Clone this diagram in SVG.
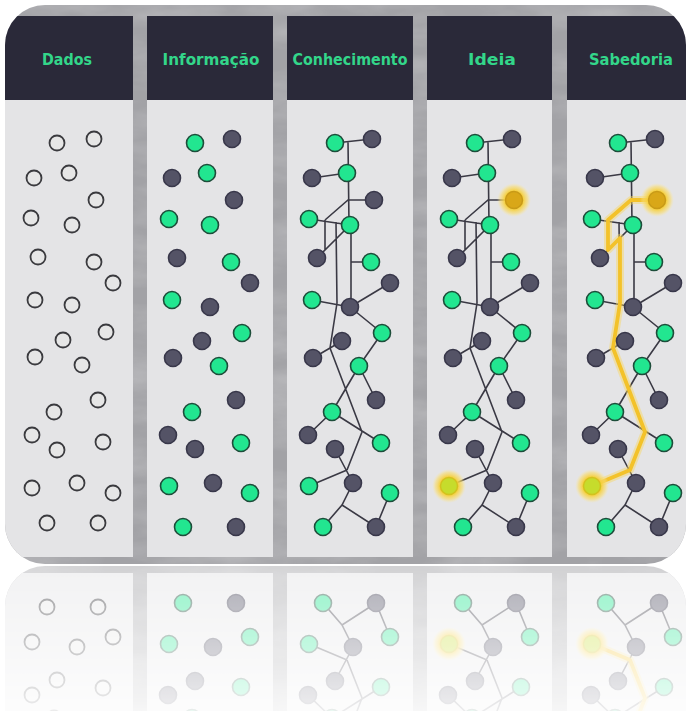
<svg xmlns="http://www.w3.org/2000/svg" xmlns:xlink="http://www.w3.org/1999/xlink" width="687" height="711" viewBox="0 0 687 711">
<style>
.hdr{fill:#2a2939}
.body{fill:#e4e4e6}
.ttl{font-family:"DejaVu Sans","Liberation Sans",sans-serif;font-weight:bold;font-size:15px;fill:#33d68a;text-anchor:middle}
.h{fill:#e6e6e6;stroke:#3a3a3e;stroke-width:1.8}
.g{fill:#22e690;stroke:#1d4d3a;stroke-width:1.6}
.d{fill:#545366;stroke:#38374a;stroke-width:1.6}
.e{fill:none;stroke:#3a3944;stroke-width:1.6}
.yl{fill:none;stroke:#f3c22a;stroke-width:3.8;stroke-linejoin:round;stroke-linecap:round}
.ylg{fill:none;stroke:#f8d860;stroke-width:8;stroke-opacity:0.45;stroke-linejoin:round;stroke-linecap:round}
.glow{fill:url(#glowGrad)}
.gold{fill:#d9a718;stroke:#c89a18;stroke-width:1.5}
.lime{fill:#c6dc2c;stroke:#d2c21e;stroke-width:1.5}
</style>
<defs>
<clipPath id="frameClip"><rect x="5" y="5" width="681" height="559" rx="40" ry="40"/></clipPath>
<filter id="marble" x="0" y="0" width="100%" height="100%">
<feTurbulence type="fractalNoise" baseFrequency="0.012 0.035" numOctaves="4" seed="7" result="n"/>
<feColorMatrix in="n" type="matrix" values="0 0 0 0 1  0 0 0 0 1  0 0 0 0 1  0.9 0 0 0 -0.3"/>
</filter>
<radialGradient id="glowGrad">
<stop offset="0" stop-color="#f2c21e" stop-opacity="1"/>
<stop offset="0.55" stop-color="#f6cf3a" stop-opacity="0.95"/>
<stop offset="0.8" stop-color="#f8dc70" stop-opacity="0.6"/>
<stop offset="1" stop-color="#fbe9a0" stop-opacity="0"/>
</radialGradient>
<linearGradient id="fadeGrad" gradientUnits="userSpaceOnUse" x1="0" y1="564" x2="0" y2="711">
<stop offset="0" stop-color="#fff" stop-opacity="0.5"/>
<stop offset="1" stop-color="#fff" stop-opacity="0.1"/>
</linearGradient>
<mask id="fade" maskUnits="userSpaceOnUse" x="0" y="560" width="687" height="151">
<rect x="0" y="560" width="687" height="151" fill="url(#fadeGrad)"/>
</mask>
</defs>
<rect x="0" y="0" width="687" height="711" fill="#ffffff"/>

<g id="pic">
<g clip-path="url(#frameClip)">
<rect x="5" y="5" width="681" height="559" fill="#a2a2a6"/>
<rect x="5" y="5" width="681" height="559" filter="url(#marble)" opacity="0.45"/>

<g id="col-dados">
<rect class="hdr" x="5" y="16" width="128" height="84"/>
<rect class="body" x="5" y="100" width="128" height="457"/>
<text class="ttl" x="67" y="65" textLength="50" lengthAdjust="spacingAndGlyphs">Dados</text>
</g>
<g id="col-informacao">
<rect class="hdr" x="147" y="16" width="126" height="84"/>
<rect class="body" x="147" y="100" width="126" height="457"/>
<text class="ttl" x="211" y="65" textLength="97" lengthAdjust="spacingAndGlyphs">Informação</text>
</g>
<g id="col-conhecimento">
<rect class="hdr" x="287" y="16" width="126" height="84"/>
<rect class="body" x="287" y="100" width="126" height="457"/>
<text class="ttl" x="350" y="65" textLength="115" lengthAdjust="spacingAndGlyphs">Conhecimento</text>
</g>
<g id="col-ideia">
<rect class="hdr" x="427" y="16" width="125" height="84"/>
<rect class="body" x="427" y="100" width="125" height="457"/>
<text class="ttl" x="492" y="65" textLength="48" lengthAdjust="spacingAndGlyphs">Ideia</text>
</g>
<g id="col-sabedoria">
<rect class="hdr" x="567" y="16" width="125" height="84"/>
<rect class="body" x="567" y="100" width="125" height="457"/>
<text class="ttl" x="631" y="65" textLength="84" lengthAdjust="spacingAndGlyphs">Sabedoria</text>
</g>
</g>

<g id="connectors">
<g id="edges-conhecimento">
<path class="e" d="M335,143 L372,139 M348,141 L349,225 M312,178 L347,173 M374,200 L348,200 L325,220 M309,219 L350,225 M325,220 L325,250 M350,225 L317,258 M336,222 L337,303 L330,348 M351,225 L351,307 M371,262 L351,262 M312,300 L350,307 M350,307 L390,283 M350,307 L382,333 M313,358 L342,341 M330,348 L362,432 M382,333 L359,366 M359,366 L376,400 M359,366 L332,412 M332,412 L308,435 M332,412 L381,443 M362,432 L347,470 M309,486 L347,470 M335,449 L353,483 M353,483 L342,505 L323,527 M342,505 L376,527 M390,493 L376,527"/>
</g>
<g id="edges-ideia" transform="translate(140,0)">
<path class="e" d="M335,143 L372,139 M348,141 L349,225 M312,178 L347,173 M374,200 L348,200 L325,220 M309,219 L350,225 M325,220 L325,250 M350,225 L317,258 M336,222 L337,303 L330,348 M351,225 L351,307 M371,262 L351,262 M312,300 L350,307 M350,307 L390,283 M350,307 L382,333 M313,358 L342,341 M330,348 L362,432 M382,333 L359,366 M359,366 L376,400 M359,366 L332,412 M332,412 L308,435 M332,412 L381,443 M362,432 L347,470 M309,486 L347,470 M335,449 L353,483 M353,483 L342,505 L323,527 M342,505 L376,527 M390,493 L376,527"/>
</g>
<g id="edges-sabedoria" transform="translate(283,0)">
<path class="e" d="M335,143 L372,139 M348,141 L349,225 M312,178 L347,173 M374,200 L348,200 L325,220 M309,219 L350,225 M325,220 L325,250 M350,225 L317,258 M336,222 L337,303 L330,348 M351,225 L351,307 M371,262 L351,262 M312,300 L350,307 M350,307 L390,283 M350,307 L382,333 M313,358 L342,341 M330,348 L362,432 M382,333 L359,366 M359,366 L376,400 M359,366 L332,412 M332,412 L308,435 M332,412 L381,443 M362,432 L347,470 M309,486 L347,470 M335,449 L353,483 M353,483 L342,505 L323,527 M342,505 L376,527 M390,493 L376,527"/>
<path class="ylg" d="M374,200 L348,200 L325,220 L325,250 L337,238 L337,303 L330,348 L362,432 L347,470 L309,486"/>
<path class="yl" d="M374,200 L348,200 L325,220 L325,250 L337,238 L337,303 L330,348 L362,432 L347,470 L309,486"/>
</g>
</g>

<g id="nodes-dados" transform="translate(-278,0)">
<g id="n1A"><circle class="h" cx="335" cy="143" r="7.5"/></g>
<g id="n1B"><circle class="h" cx="372" cy="139" r="7.5"/></g>
<g id="n1C"><circle class="h" cx="312" cy="178" r="7.5"/></g>
<g id="n1D"><circle class="h" cx="347" cy="173" r="7.5"/></g>
<g id="n1E"><circle class="h" cx="374" cy="200" r="7.5"/></g>
<g id="n1F"><circle class="h" cx="309" cy="218" r="7.5"/></g>
<g id="n1G"><circle class="h" cx="350" cy="225" r="7.5"/></g>
<g id="n1H"><circle class="h" cx="316" cy="257" r="7.5"/></g>
<g id="n1I"><circle class="h" cx="372" cy="262" r="7.5"/></g>
<g id="n1J"><circle class="h" cx="391" cy="283" r="7.5"/></g>
<g id="n1K"><circle class="h" cx="313" cy="300" r="7.5"/></g>
<g id="n1L"><circle class="h" cx="350" cy="305" r="7.5"/></g>
<g id="n1M"><circle class="h" cx="384" cy="332" r="7.5"/></g>
<g id="n1N"><circle class="h" cx="341" cy="340" r="7.5"/></g>
<g id="n1O"><circle class="h" cx="313" cy="357" r="7.5"/></g>
<g id="n1P"><circle class="h" cx="360" cy="365" r="7.5"/></g>
<g id="n1Q"><circle class="h" cx="376" cy="400" r="7.5"/></g>
<g id="n1R"><circle class="h" cx="332" cy="412" r="7.5"/></g>
<g id="n1S"><circle class="h" cx="310" cy="435" r="7.5"/></g>
<g id="n1T"><circle class="h" cx="335" cy="450" r="7.5"/></g>
<g id="n1U"><circle class="h" cx="381" cy="442" r="7.5"/></g>
<g id="n1V"><circle class="h" cx="310" cy="488" r="7.5"/></g>
<g id="n1W"><circle class="h" cx="355" cy="483" r="7.5"/></g>
<g id="n1X"><circle class="h" cx="391" cy="493" r="7.5"/></g>
<g id="n1Y"><circle class="h" cx="325" cy="523" r="7.5"/></g>
<g id="n1Z"><circle class="h" cx="376" cy="523" r="7.5"/></g>
</g>

<g id="nodes-informacao" transform="translate(-140,0)">
<g id="n2A"><circle class="g" cx="335" cy="143" r="8.5"/></g>
<g id="n2B"><circle class="d" cx="372" cy="139" r="8.5"/></g>
<g id="n2C"><circle class="d" cx="312" cy="178" r="8.5"/></g>
<g id="n2D"><circle class="g" cx="347" cy="173" r="8.5"/></g>
<g id="n2E"><circle class="d" cx="374" cy="200" r="8.5"/></g>
<g id="n2F"><circle class="g" cx="309" cy="219" r="8.5"/></g>
<g id="n2G"><circle class="g" cx="350" cy="225" r="8.5"/></g>
<g id="n2H"><circle class="d" cx="317" cy="258" r="8.5"/></g>
<g id="n2I"><circle class="g" cx="371" cy="262" r="8.5"/></g>
<g id="n2J"><circle class="d" cx="390" cy="283" r="8.5"/></g>
<g id="n2K"><circle class="g" cx="312" cy="300" r="8.5"/></g>
<g id="n2L"><circle class="d" cx="350" cy="307" r="8.5"/></g>
<g id="n2M"><circle class="g" cx="382" cy="333" r="8.5"/></g>
<g id="n2N"><circle class="d" cx="342" cy="341" r="8.5"/></g>
<g id="n2O"><circle class="d" cx="313" cy="358" r="8.5"/></g>
<g id="n2P"><circle class="g" cx="359" cy="366" r="8.5"/></g>
<g id="n2Q"><circle class="d" cx="376" cy="400" r="8.5"/></g>
<g id="n2R"><circle class="g" cx="332" cy="412" r="8.5"/></g>
<g id="n2S"><circle class="d" cx="308" cy="435" r="8.5"/></g>
<g id="n2T"><circle class="d" cx="335" cy="449" r="8.5"/></g>
<g id="n2U"><circle class="g" cx="381" cy="443" r="8.5"/></g>
<g id="n2V"><circle class="g" cx="309" cy="486" r="8.5"/></g>
<g id="n2W"><circle class="d" cx="353" cy="483" r="8.5"/></g>
<g id="n2X"><circle class="g" cx="390" cy="493" r="8.5"/></g>
<g id="n2Y"><circle class="g" cx="323" cy="527" r="8.5"/></g>
<g id="n2Z"><circle class="d" cx="376" cy="527" r="8.5"/></g>
</g>

<g id="nodes-conhecimento">
<g id="n3A"><circle class="g" cx="335" cy="143" r="8.5"/></g>
<g id="n3B"><circle class="d" cx="372" cy="139" r="8.5"/></g>
<g id="n3C"><circle class="d" cx="312" cy="178" r="8.5"/></g>
<g id="n3D"><circle class="g" cx="347" cy="173" r="8.5"/></g>
<g id="n3E"><circle class="d" cx="374" cy="200" r="8.5"/></g>
<g id="n3F"><circle class="g" cx="309" cy="219" r="8.5"/></g>
<g id="n3G"><circle class="g" cx="350" cy="225" r="8.5"/></g>
<g id="n3H"><circle class="d" cx="317" cy="258" r="8.5"/></g>
<g id="n3I"><circle class="g" cx="371" cy="262" r="8.5"/></g>
<g id="n3J"><circle class="d" cx="390" cy="283" r="8.5"/></g>
<g id="n3K"><circle class="g" cx="312" cy="300" r="8.5"/></g>
<g id="n3L"><circle class="d" cx="350" cy="307" r="8.5"/></g>
<g id="n3M"><circle class="g" cx="382" cy="333" r="8.5"/></g>
<g id="n3N"><circle class="d" cx="342" cy="341" r="8.5"/></g>
<g id="n3O"><circle class="d" cx="313" cy="358" r="8.5"/></g>
<g id="n3P"><circle class="g" cx="359" cy="366" r="8.5"/></g>
<g id="n3Q"><circle class="d" cx="376" cy="400" r="8.5"/></g>
<g id="n3R"><circle class="g" cx="332" cy="412" r="8.5"/></g>
<g id="n3S"><circle class="d" cx="308" cy="435" r="8.5"/></g>
<g id="n3T"><circle class="d" cx="335" cy="449" r="8.5"/></g>
<g id="n3U"><circle class="g" cx="381" cy="443" r="8.5"/></g>
<g id="n3V"><circle class="g" cx="309" cy="486" r="8.5"/></g>
<g id="n3W"><circle class="d" cx="353" cy="483" r="8.5"/></g>
<g id="n3X"><circle class="g" cx="390" cy="493" r="8.5"/></g>
<g id="n3Y"><circle class="g" cx="323" cy="527" r="8.5"/></g>
<g id="n3Z"><circle class="d" cx="376" cy="527" r="8.5"/></g>
</g>

<g id="nodes-ideia" transform="translate(140,0)">
<g id="n4A"><circle class="g" cx="335" cy="143" r="8.5"/></g>
<g id="n4B"><circle class="d" cx="372" cy="139" r="8.5"/></g>
<g id="n4C"><circle class="d" cx="312" cy="178" r="8.5"/></g>
<g id="n4D"><circle class="g" cx="347" cy="173" r="8.5"/></g>
<g id="n4E"><circle class="glow" cx="374" cy="200" r="17"/><circle class="gold" cx="374" cy="200" r="8.5"/></g>
<g id="n4F"><circle class="g" cx="309" cy="219" r="8.5"/></g>
<g id="n4G"><circle class="g" cx="350" cy="225" r="8.5"/></g>
<g id="n4H"><circle class="d" cx="317" cy="258" r="8.5"/></g>
<g id="n4I"><circle class="g" cx="371" cy="262" r="8.5"/></g>
<g id="n4J"><circle class="d" cx="390" cy="283" r="8.5"/></g>
<g id="n4K"><circle class="g" cx="312" cy="300" r="8.5"/></g>
<g id="n4L"><circle class="d" cx="350" cy="307" r="8.5"/></g>
<g id="n4M"><circle class="g" cx="382" cy="333" r="8.5"/></g>
<g id="n4N"><circle class="d" cx="342" cy="341" r="8.5"/></g>
<g id="n4O"><circle class="d" cx="313" cy="358" r="8.5"/></g>
<g id="n4P"><circle class="g" cx="359" cy="366" r="8.5"/></g>
<g id="n4Q"><circle class="d" cx="376" cy="400" r="8.5"/></g>
<g id="n4R"><circle class="g" cx="332" cy="412" r="8.5"/></g>
<g id="n4S"><circle class="d" cx="308" cy="435" r="8.5"/></g>
<g id="n4T"><circle class="d" cx="335" cy="449" r="8.5"/></g>
<g id="n4U"><circle class="g" cx="381" cy="443" r="8.5"/></g>
<g id="n4V"><circle class="glow" cx="309" cy="486" r="17"/><circle class="lime" cx="309" cy="486" r="8.5"/></g>
<g id="n4W"><circle class="d" cx="353" cy="483" r="8.5"/></g>
<g id="n4X"><circle class="g" cx="390" cy="493" r="8.5"/></g>
<g id="n4Y"><circle class="g" cx="323" cy="527" r="8.5"/></g>
<g id="n4Z"><circle class="d" cx="376" cy="527" r="8.5"/></g>
</g>

<g id="nodes-sabedoria" transform="translate(283,0)">
<g id="n5A"><circle class="g" cx="335" cy="143" r="8.5"/></g>
<g id="n5B"><circle class="d" cx="372" cy="139" r="8.5"/></g>
<g id="n5C"><circle class="d" cx="312" cy="178" r="8.5"/></g>
<g id="n5D"><circle class="g" cx="347" cy="173" r="8.5"/></g>
<g id="n5E"><circle class="glow" cx="374" cy="200" r="17"/><circle class="gold" cx="374" cy="200" r="8.5"/></g>
<g id="n5F"><circle class="g" cx="309" cy="219" r="8.5"/></g>
<g id="n5G"><circle class="g" cx="350" cy="225" r="8.5"/></g>
<g id="n5H"><circle class="d" cx="317" cy="258" r="8.5"/></g>
<g id="n5I"><circle class="g" cx="371" cy="262" r="8.5"/></g>
<g id="n5J"><circle class="d" cx="390" cy="283" r="8.5"/></g>
<g id="n5K"><circle class="g" cx="312" cy="300" r="8.5"/></g>
<g id="n5L"><circle class="d" cx="350" cy="307" r="8.5"/></g>
<g id="n5M"><circle class="g" cx="382" cy="333" r="8.5"/></g>
<g id="n5N"><circle class="d" cx="342" cy="341" r="8.5"/></g>
<g id="n5O"><circle class="d" cx="313" cy="358" r="8.5"/></g>
<g id="n5P"><circle class="g" cx="359" cy="366" r="8.5"/></g>
<g id="n5Q"><circle class="d" cx="376" cy="400" r="8.5"/></g>
<g id="n5R"><circle class="g" cx="332" cy="412" r="8.5"/></g>
<g id="n5S"><circle class="d" cx="308" cy="435" r="8.5"/></g>
<g id="n5T"><circle class="d" cx="335" cy="449" r="8.5"/></g>
<g id="n5U"><circle class="g" cx="381" cy="443" r="8.5"/></g>
<g id="n5V"><circle class="glow" cx="309" cy="486" r="17"/><circle class="lime" cx="309" cy="486" r="8.5"/></g>
<g id="n5W"><circle class="d" cx="353" cy="483" r="8.5"/></g>
<g id="n5X"><circle class="g" cx="390" cy="493" r="8.5"/></g>
<g id="n5Y"><circle class="g" cx="323" cy="527" r="8.5"/></g>
<g id="n5Z"><circle class="d" cx="376" cy="527" r="8.5"/></g>
</g>
</g>

<g id="reflection" mask="url(#fade)">
<use xlink:href="#pic" href="#pic" transform="matrix(1,0,0,-1,0,1130)"/>
</g>
</svg>
